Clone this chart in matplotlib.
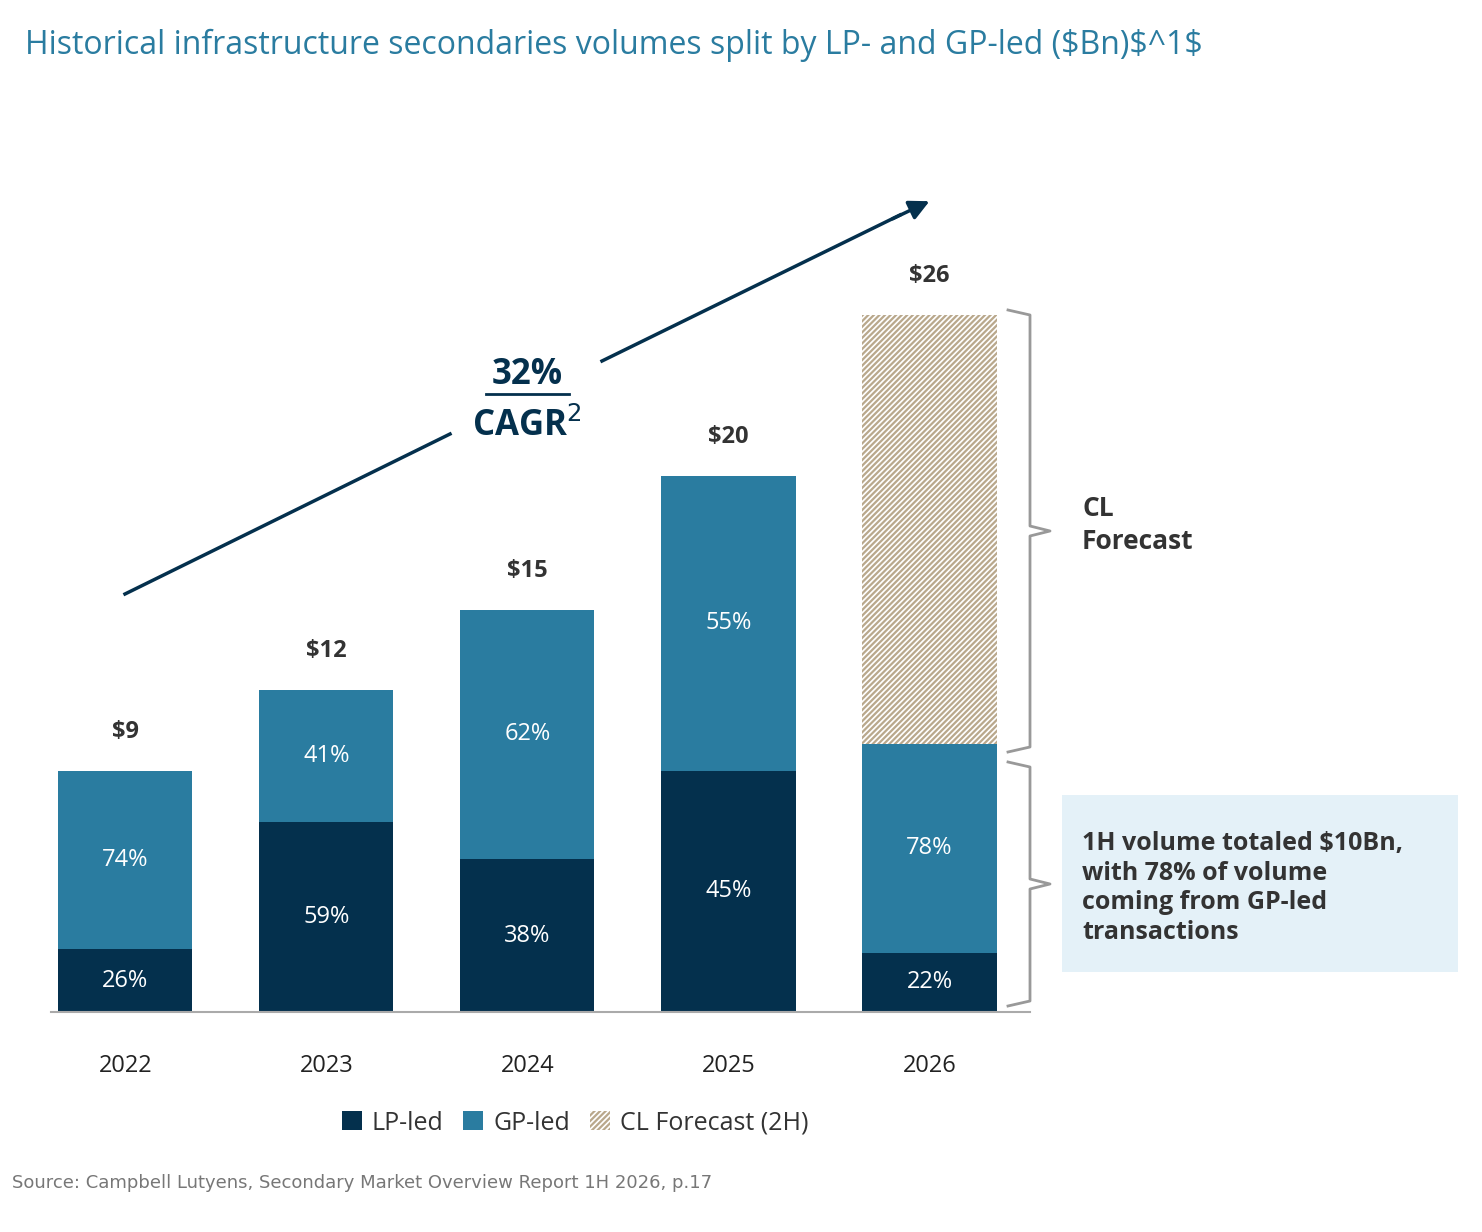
import matplotlib.pyplot as plt
from matplotlib.patches import Rectangle

years = ["2022", "2023", "2024", "2025", "2026"]
totals = [9, 12, 15, 20, 10]
lp_share = [26, 59, 38, 45, 22]
gp_share = [74, 41, 62, 55, 78]
forecast_2h = 16
total_labels = ["$9", "$12", "$15", "$20", "$26"]

navy = "#04304d"
teal = "#2a7ca0"
tan = "#b9a88c"
title_c = "#2a7ca0"

plt.rcParams['font.family'] = ['Open Sans', 'DejaVu Sans']
plt.rcParams['hatch.linewidth'] = 1.6

W, H = 1482, 1232
fig = plt.figure(figsize=(W / 100, H / 100), dpi=100)
ax = fig.add_axes([51 / W, 1 - 1012 / H, (1030 - 51) / W, 912 / H])

x = range(len(years))
lp = [t * s / 100 for t, s in zip(totals, lp_share)]
gp = [t - l for t, l in zip(totals, lp)]
ax.bar(x, lp, width=0.667, color=navy, label="LP-led")
ax.bar(x, gp, bottom=lp, width=0.667, color=teal, label="GP-led")
ax.bar([4], [forecast_2h], bottom=[totals[4]], width=0.667, color="white",
       edgecolor=tan, hatch="//////", linewidth=0, label="CL Forecast (2H)")

for i in x:
    ax.text(i, lp[i] / 2, f"{lp_share[i]}%", ha="center", va="center", color="white", fontsize=17)
    ax.text(i, lp[i] + gp[i] / 2, f"{gp_share[i]}%", ha="center", va="center", color="white", fontsize=17)
    top = totals[i] + (forecast_2h if i == 4 else 0)
    ax.text(i, top + 1.0, total_labels[i], ha="center", va="bottom", color="#333333",
            fontsize=17, fontweight="bold")

ax.set_xlim(-0.37, 4.5)
ax.set_ylim(0, 34)
ax.set_xticks(list(x))
ax.set_xticklabels(years, fontsize=17, color="#222222")
ax.tick_params(axis="x", length=0, pad=30)
ax.set_yticks([])
for s in ["top", "right", "left"]:
    ax.spines[s].set_visible(False)
ax.spines["bottom"].set_color("#aaaaaa")
ax.spines["bottom"].set_linewidth(1.5)

fig.text(25 / W, 1 - 45 / H, "Historical infrastructure secondaries volumes split by LP- and GP-led ($Bn)$^1$",
         fontsize=23, color=title_c, va="center")

# CAGR arrow (figure coords)
def fp(px, py):
    return (px / W, 1 - py / H)

fig.add_artist(plt.Line2D([125 / W, 450 / W], [1 - 594 / H, 1 - 434 / H],
                          color=navy, lw=2.5, transform=fig.transFigure))
fig.add_artist(plt.Line2D([602 / W, 900 / W], [1 - 361 / H, 1 - 215 / H],
                          color=navy, lw=2.5, transform=fig.transFigure))
ax.annotate("", xy=fp(932, 200), xytext=fp(890, 220), xycoords="figure fraction",
            textcoords="figure fraction",
            arrowprops=dict(arrowstyle="-|>,head_width=0.6,head_length=1.2", color=navy, lw=2.5))
fig.text(527 / W, 1 - 375 / H, "32%", ha="center", va="center", fontsize=25,
         fontweight="bold", color=navy)
fig.add_artist(plt.Line2D([486 / W, 569 / W], [1 - 394 / H, 1 - 394 / H],
                          color=navy, lw=2, transform=fig.transFigure))
fig.text(527 / W, 1 - 427 / H, "CAGR$^2$", ha="center", va="center", fontsize=25,
         fontweight="bold", color=navy)

# brackets
def bracket(ytop, ybot):
    ymid = (ytop + ybot) / 2
    xs = [1008, 1030, 1030, 1050, 1030, 1030, 1008]
    ys = [ytop, ytop + 5, ymid - 5, ymid, ymid + 5, ybot - 5, ybot]
    fig.add_artist(plt.Line2D([v / W for v in xs], [1 - v / H for v in ys],
                              color="#999999", lw=2, transform=fig.transFigure))

bracket(310, 752)
bracket(762, 1006)
fig.text(1082 / W, 1 - 525 / H, "CL\nForecast", fontsize=19, fontweight="bold",
         color="#333333", va="center", linespacing=1.3)

fig.add_artist(Rectangle((1062 / W, 1 - 972 / H), (1458 - 1062) / W, (972 - 795) / H,
                         transform=fig.transFigure, color="#e4f1f8", lw=0))
fig.text(1082 / W, 1 - 888 / H,
         "1H volume totaled $10Bn,\nwith 78% of volume\ncoming from GP-led\ntransactions",
         fontsize=18, fontweight="bold", color="#333333", va="center", linespacing=1.25)

fig.legend(loc="center", bbox_to_anchor=(575 / W, 1 - 1123 / H), ncol=3, frameon=False,
           fontsize=18, handlelength=0.8, handleheight=0.8, handletextpad=0.4,
           columnspacing=0.8, labelcolor="#333333")

fig.text(12 / W, 1 - 1183 / H,
         "Source: Campbell Lutyens, Secondary Market Overview Report 1H 2026, p.17",
         fontsize=13, color="#777777", va="center", family=["DejaVu Sans"])

fig.savefig("out.png", dpi=100)
